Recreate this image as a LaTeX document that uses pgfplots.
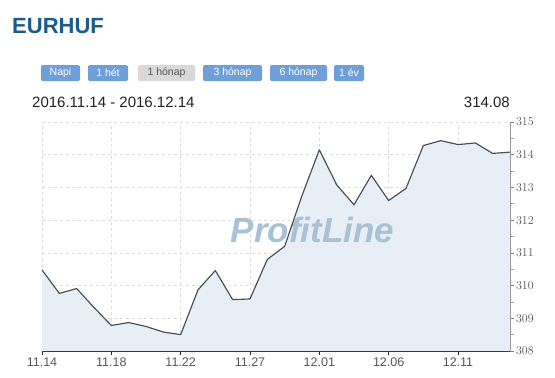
\documentclass[border=0pt]{standalone}
\usepackage{fontspec}
\setmainfont{Liberation Sans}
\usepackage{pgfplots}
\usepackage{pgfplotstable}
\pgfplotsset{compat=1.18}
\definecolor{titleblue}{HTML}{1B5C8A}
\definecolor{btnblue}{HTML}{6E9FD9}
\definecolor{btngray}{HTML}{D9D9D9}
\definecolor{linec}{HTML}{454D56}
\definecolor{fillc}{HTML}{E7EEF6}
\definecolor{gridc}{HTML}{DDDDDD}
\definecolor{wmark}{HTML}{A9C1D4}
\definecolor{textc}{HTML}{222222}
\definecolor{tickc}{HTML}{555555}
\definecolor{minorc}{HTML}{C89090}
\pgfplotstableread{
idx val
0 310.48
1 309.76
2 309.91
3 309.33
4 308.78
5 308.87
6 308.75
7 308.58
8 308.50
9 309.87
10 310.46
11 309.57
12 309.59
13 310.80
14 311.20
15 312.75
16 314.15
17 313.08
18 312.47
19 313.37
20 312.60
21 312.97
22 314.28
23 314.43
24 314.31
25 314.36
26 314.04
27 314.08
}\datatable
\begin{document}
\begin{tikzpicture}[x=1pt,y=1pt]
\path[use as bounding box] (0,0) rectangle (555,-378);
\node[anchor=base west, inner sep=0, font=\bfseries\fontsize{22}{26}\selectfont, text=titleblue] at (12,-33) {EURHUF};
% buttons
\tikzset{btn/.style={rounded corners=1.5pt, draw=none}}
\fill[btnblue, btn] (41,-65) rectangle (80,-81);
\node[text=white, font=\fontsize{10.5}{12}\selectfont] at (60.5,-73) {Napi};
\fill[btnblue, btn] (88,-65) rectangle (128,-81);
\node[text=white, font=\fontsize{10.5}{12}\selectfont] at (108,-73) {1 hét};
\fill[btngray, btn] (138,-65) rectangle (195,-81);
\node[text=tickc, font=\fontsize{10.5}{12}\selectfont] at (166.5,-73) {1 hónap};
\fill[btnblue, btn] (203,-65) rectangle (262,-81);
\node[text=white, font=\fontsize{10.5}{12}\selectfont] at (232.5,-73) {3 hónap};
\fill[btnblue, btn] (270,-65) rectangle (327,-81);
\node[text=white, font=\fontsize{10.5}{12}\selectfont] at (298.5,-73) {6 hónap};
\fill[btnblue, btn] (334,-65) rectangle (364,-81);
\node[text=white, font=\fontsize{10.5}{12}\selectfont] at (349,-73) {1 év};
\node[anchor=base west, inner sep=0, text=textc, font=\fontsize{15}{18}\selectfont] at (32,-107) {2016.11.14 - 2016.12.14};
\node[anchor=base east, inner sep=0, text=textc, font=\fontsize{15}{18}\selectfont] at (510,-107) {314.08};
\begin{axis}[
  at={(42pt,-351pt)}, anchor=south west,
  scale only axis, width=468pt, height=229pt,
  xmin=0, xmax=27, ymin=308, ymax=315,
  axis x line*=bottom, axis y line*=right,
  xtick={0,4,8,12,16,20,24},
  xticklabels={11.14,11.18,11.22,11.27,12.01,12.06,12.11},
  ytick={308,309,310,311,312,313,314,315},
  minor y tick num=1,
  tick align=outside,
  major tick length=4pt, minor tick length=4pt,
  x axis line style={draw=textc, line width=1.2pt, -},
  y axis line style={draw=gray!80, line width=0.6pt, -},
  xtick style={draw=textc, line width=0.8pt},
  ytick style={draw=gray, line width=0.6pt},
  minor y tick style={draw=minorc, line width=0.6pt},
  grid=major,
  major grid style={draw=gridc, dash pattern=on 3pt off 3pt, line width=0.6pt},
  ticklabel style={font=\fontsize{12.5}{14}\selectfont, text=tickc},
  xticklabel style={yshift=1pt},
  yticklabel style={xshift=-1.5pt},
  clip=false,
]
\addplot[fill=fillc, draw=none] table[x=idx, y=val] {\datatable} \closedcycle;
\node[font=\bfseries\itshape\fontsize{35}{40}\selectfont, text=wmark] at (axis cs:15.6,311.7) {ProfitLine};
\addplot[linec, line width=1.15pt, mark=none, line join=round] table[x=idx, y=val] {\datatable};
\end{axis}
\end{tikzpicture}
\end{document}
